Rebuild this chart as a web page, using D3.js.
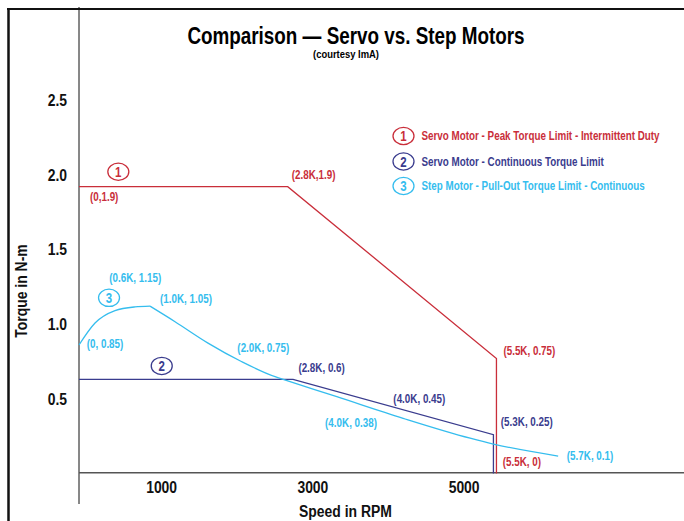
<!DOCTYPE html>
<html>
<head>
<meta charset="utf-8">
<script src="https://cdn.jsdelivr.net/npm/d3@7/dist/d3.min.js"></script>
<style>
  html, body { margin: 0; padding: 0; background: #fff; }
  svg text { font-family: "Liberation Sans", Arial, sans-serif; font-weight: bold; }
</style>
</head>
<body>
<svg id="chart" width="684" height="521"></svg>
<script>
// ---------- data ----------
const rpmTicks = [1000, 3000, 5000];
const torqueTicks = [0.5, 1.0, 1.5, 2.0, 2.5];

// 1: Servo motor - peak torque limit (intermittent duty)
const peakRPM    = [0, 2760, 5520, 5520];
const peakTorque = [1.92, 1.92, 0.77, 0];

// 2: Servo motor - continuous torque limit
const contRPM    = [0, 2830, 5480, 5480];
const contTorque = [0.63, 0.63, 0.26, 0];

// 3: Step motor - pull-out torque limit (continuous), rising arc then falling curve
const stepRiseRPM    = [0, 212, 476, 741, 939];
const stepRiseTorque = [0.86, 1.007, 1.09, 1.115, 1.12];
const stepFallRPM    = [939, 1270, 1706, 2153, 2593, 2659, 3409, 4286, 5172, 5480, 6336];
const stepFallTorque = [1.12, 1.016, 0.873, 0.748, 0.648, 0.637, 0.514, 0.369, 0.236, 0.197, 0.117];

// point annotations (text, anchor rpm, anchor torque, series)
const annText   = ["(0,1.9)", "(2.8K,1.9)", "(0.6K, 1.15)", "(1.0K, 1.05)", "(0, 0.85)", "(2.0K, 0.75)",
                   "(2.8K, 0.6)", "(4.0K, 0.45)", "(4.0K, 0.38)", "(5.5K, 0.75)", "(5.3K, 0.25)", "(5.5K, 0)", "(5.7K, 0.1)"];
const annRPM    = [145, 2813, 401, 1071, 102, 2094, 2901, 4157, 3254, 5612, 5578, 5604, 6451];
const annTorque = [1.853, 1.998, 1.309, 1.168, 0.867, 0.845, 0.711, 0.503, 0.340, 0.822, 0.347, 0.079, 0.117];
const annSeries = [0, 0, 2, 2, 2, 2, 1, 1, 2, 0, 1, 0, 2];

// series badges on the plot (number, rpm, torque)
const badgeNum    = ["1", "3", "2"];
const badgeRPM    = [520, 397, 1094];
const badgeTorque = [2.02, 1.176, 0.72];
const badgeSeries = [0, 2, 1];

const legendLabels = ["Servo Motor - Peak Torque Limit - Intermittent Duty",
                      "Servo Motor - Continuous Torque Limit",
                      "Step Motor - Pull-Out Torque Limit - Continuous"];
const colors = ["#c92e3a", "#3a3c8e", "#35bdee"];

// ---------- drawing ----------
const svg = d3.select("#chart");
const x = d3.scaleLinear().domain([0, 8000]).range([79, 684]);
const y = d3.scaleLinear().domain([0, 2.5]).range([473.5, 100]);
const SQUEEZE = 0.82;

// frame
svg.append("line").attr("x1", 8.5).attr("x2", 8.5).attr("y1", 8).attr("y2", 521)
  .attr("stroke", "#111").attr("stroke-width", 2.5);
svg.append("line").attr("x1", 7).attr("x2", 684).attr("y1", 9).attr("y2", 9)
  .attr("stroke", "#111").attr("stroke-width", 2);

// title
svg.append("text").attr("x", 356).attr("y", 44).attr("text-anchor", "middle")
  .attr("font-size", 23).attr("fill", "#000").text("Comparison \u2014 Servo vs. Step Motors");
svg.append("text").attr("x", 346).attr("y", 58).attr("text-anchor", "middle")
  .attr("font-size", 11.5).attr("fill", "#000").text("(courtesy ImA)");

// axes lines
svg.append("line").attr("x1", x(0)).attr("x2", x(0)).attr("y1", 7).attr("y2", 504)
  .attr("stroke", "#111").attr("stroke-width", 1);
svg.append("line").attr("x1", x(0)).attr("x2", 684).attr("y1", y(0) - 0.7).attr("y2", y(0) - 0.7)
  .attr("stroke", "#555").attr("stroke-width", 1.6);

// tick labels
const xAxis = svg.append("g").attr("transform", `translate(0,${y(0)})`)
  .call(d3.axisBottom(x).tickValues(rpmTicks).tickSize(0).tickPadding(7).tickFormat(d3.format("d")));
xAxis.select(".domain").remove();
xAxis.attr("font-family", null).attr("font-size", null);
xAxis.selectAll("text").attr("font-size", 17).attr("fill", "#111").attr("dx", 6.5 / SQUEEZE);

const yAxis = svg.append("g").attr("transform", `translate(${x(0)},0)`)
  .call(d3.axisLeft(y).tickValues(torqueTicks).tickSize(0).tickPadding(12).tickFormat(d3.format(".1f")));
yAxis.select(".domain").remove();
yAxis.attr("font-family", null).attr("font-size", null);
yAxis.selectAll("text").attr("font-size", 17).attr("fill", "#111");

// axis titles
svg.append("text").attr("x", 345.5).attr("y", 517).attr("text-anchor", "middle")
  .attr("font-size", 17).attr("fill", "#111").text("Speed in RPM");
svg.append("text").attr("transform", "translate(27,291) rotate(-90)").attr("text-anchor", "middle")
  .attr("font-size", 17).attr("fill", "#111").text("Torque in N-m");

// series lines
const lineLinear = d3.line().x(d => x(d[0])).y(d => y(d[1]));
const lineSmooth = d3.line().x(d => x(d[0])).y(d => y(d[1])).curve(d3.curveMonotoneX);
const zip = (a, b) => a.map((v, i) => [v, b[i]]);

svg.append("path").attr("d", lineLinear(zip(peakRPM, peakTorque)))
  .attr("fill", "none").attr("stroke", colors[0]).attr("stroke-width", 1.3);
svg.append("path").attr("d", lineLinear(zip(contRPM, contTorque)))
  .attr("fill", "none").attr("stroke", colors[1]).attr("stroke-width", 1.3);
svg.append("path").attr("d", lineSmooth(zip(stepRiseRPM, stepRiseTorque)))
  .attr("fill", "none").attr("stroke", colors[2]).attr("stroke-width", 1.3);
svg.append("path").attr("d", lineSmooth(zip(stepFallRPM, stepFallTorque)))
  .attr("fill", "none").attr("stroke", colors[2]).attr("stroke-width", 1.3);

// annotations
svg.append("g").selectAll("text").data(annText).join("text")
  .attr("x", (d, i) => x(annRPM[i])).attr("y", (d, i) => y(annTorque[i]))
  .attr("dy", "0.36em").attr("font-size", 12)
  .attr("fill", (d, i) => colors[annSeries[i]]).text(d => d);

// badges
function badge(g, cx, cy, num, color) {
  g.append("ellipse").attr("cx", cx).attr("cy", cy).attr("rx", 10.5).attr("ry", 8.6)
    .attr("fill", "#fff").attr("stroke", color).attr("stroke-width", 1.3);
  g.append("text").attr("x", cx).attr("y", cy).attr("dy", "0.36em").attr("text-anchor", "middle")
    .attr("font-size", 14).attr("fill", color).text(num);
}
const bg = svg.append("g");
badgeNum.forEach((n, i) => badge(bg, x(badgeRPM[i]), y(badgeTorque[i]), n, colors[badgeSeries[i]]));

// legend
const lg = svg.append("g");
const legendY = [136, 161.5, 186];
legendLabels.forEach((t, i) => {
  badge(lg, 403.5, legendY[i], String(i + 1), colors[i]);
  lg.append("text").attr("x", 421.5).attr("y", legendY[i]).attr("dy", "0.36em")
    .attr("font-size", 12).attr("fill", colors[i]).text(t);
});

// condensed look: squeeze every text horizontally around its anchor
svg.selectAll("text").each(function () {
  const ax = +(this.getAttribute("x") || 0);
  const prev = this.getAttribute("transform") || "";
  this.setAttribute("transform",
    `${prev} translate(${ax},0) scale(${SQUEEZE},1) translate(${-ax},0)`.trim());
});
</script>
</body>
</html>
